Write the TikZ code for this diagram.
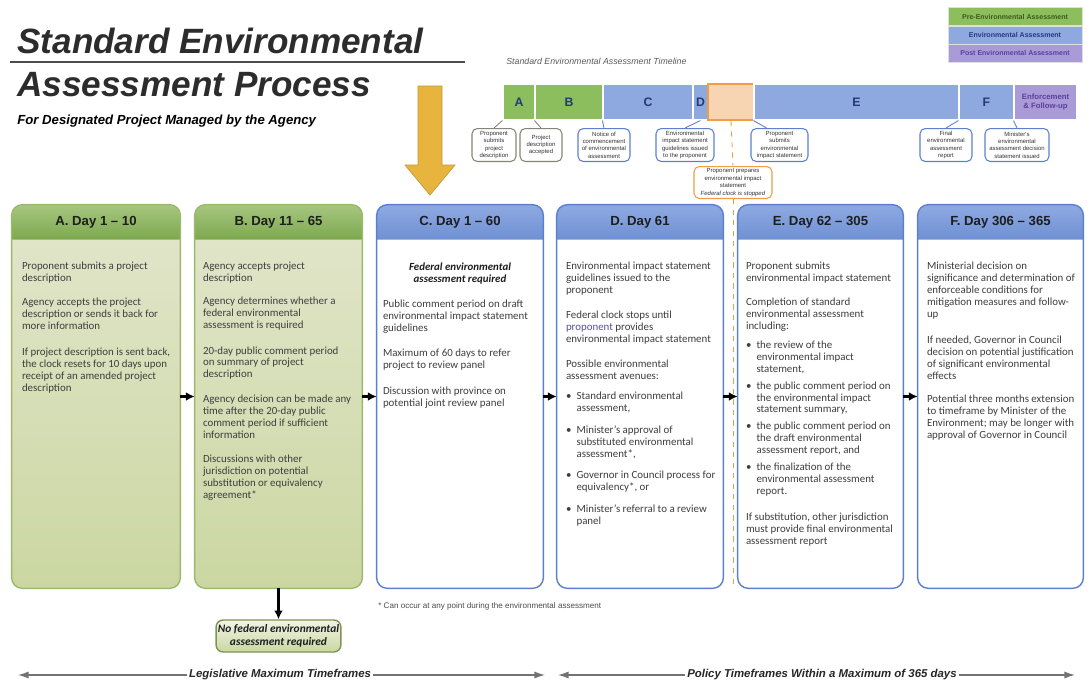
\documentclass[tikz,border=0pt]{standalone}
\usepackage{fontspec}
\setmainfont{Carlito}
\newfontfamily\arialfont{Liberation Sans}
\usepackage{tikz}
\usetikzlibrary{arrows.meta, positioning}

\definecolor{pregreen}{HTML}{8DBE5E}
\definecolor{eablue}{HTML}{8EA9E0}
\definecolor{postpurple}{HTML}{A99BD8}
\definecolor{stopfill}{HTML}{F7D5B3}
\definecolor{stopedge}{HTML}{EE9E45}
\definecolor{greenedge}{HTML}{9DB86A}
\definecolor{blueedge}{HTML}{5C80CF}
\definecolor{greenheadtop}{HTML}{A6C77F}
\definecolor{greenheadbot}{HTML}{7DA84E}
\definecolor{blueheadtop}{HTML}{8EAAE3}
\definecolor{blueheadbot}{HTML}{6F90D3}
\definecolor{bodytop}{HTML}{E2E6CC}
\definecolor{bodymid}{HTML}{F2F3E6}
\definecolor{bodybot}{HTML}{CBD7A2}
\definecolor{bodyink}{HTML}{3E3E3E}
\definecolor{headink}{HTML}{1E1E1E}
\definecolor{navy}{HTML}{24387A}
\definecolor{postink}{HTML}{5B3E9A}
\definecolor{preink}{HTML}{3D5A1C}
\definecolor{arrowgold}{HTML}{E7B53E}
\definecolor{greybox}{HTML}{85857A}
\definecolor{titleink}{HTML}{2C2C2C}
\definecolor{linkink}{HTML}{5B4EA0}

\newcommand\colfont{\fontsize{6.2}{6.8}\selectfont}
\newcommand\colbullet{\makebox[6pt][l]{\textbullet}}
\newcommand\colindent{\hspace*{6pt}}

\begin{document}
\begin{tikzpicture}[x=0.02cm, y=-0.02cm,
    colbox/.style={rounded corners=6pt, minimum height=7.66cm, inner sep=0pt},
    greenbody/.style={colbox, top color=bodytop, middle color=bodymid, bottom color=bodybot},
    bluebody/.style={colbox, fill=white},
    greenhead/.style={top color=greenheadtop, bottom color=greenheadbot},
    bluehead/.style={top color=blueheadtop, bottom color=blueheadbot},
    headtext/.style={font=\arialfont\bfseries\fontsize{7.5}{9}\selectfont, text=headink},
    coltext/.style={anchor=north west, align=left, inner sep=0pt, font=\colfont, text=bodyink},
    colarrow/.style={-{Latex[length=5pt,width=5pt]}, line width=1.3pt, black},
    seg/.style={minimum height=0.72cm, inner sep=0pt, draw=white, line width=0.6pt,
        font=\arialfont\bfseries\fontsize{7}{8}\selectfont, text=navy},
    legend/.style={minimum width=2.68cm, minimum height=0.36cm, inner sep=0pt,
        draw=white!75!gray, line width=0.4pt, font=\arialfont\bfseries\fontsize{4}{5}\selectfont},
    mile/.style={draw, rounded corners=3pt, line width=0.6pt, fill=white, align=center,
        inner sep=1pt, anchor=north, minimum height=0.66cm,
        font=\arialfont\fontsize{3.4}{4.2}\selectfont, text=black!80},
    tick/.style={line width=0.5pt},
    tfarrow/.style={-{Latex[length=6pt,width=4pt]}, line width=0.7pt, black!55},
    tftext/.style={font=\arialfont\bfseries\itshape\fontsize{6.5}{8}\selectfont, text=black!85, inner sep=1pt}
]
    \useasboundingbox (0,0) rectangle (1090,684);

    % Title
    \node[anchor=base west, inner sep=0pt, text=titleink,
        font=\arialfont\bfseries\itshape\fontsize{20}{24}\selectfont] (title1) at (17,53) {Standard Environmental};
    \node[anchor=base west, inner sep=0pt, text=titleink,
        font=\arialfont\bfseries\itshape\fontsize{20}{24}\selectfont] (title2) at (17,96) {Assessment Process};
    \draw[black!70, line width=0.7pt] (10,62) -- (465,62);
    \node[anchor=base west, inner sep=0pt,
        font=\arialfont\bfseries\itshape\fontsize{7.5}{9}\selectfont] (subtitle) at (17,124) {For Designated Project Managed by the Agency};

    % Big arrow into C
    \fill[arrowgold, draw=arrowgold!85!black, line width=0.4pt]
        (418,86) -- (442,86) -- (442,165) -- (455,165) -- (430,195) -- (405,165) -- (418,165) -- cycle;

    % Legend
    \node[legend, fill=pregreen, text=preink] (legPre) at (1015,16.5) {Pre-Environmental Assessment};
    \node[legend, fill=eablue, text=navy] (legEA) at (1015,35) {Environmental Assessment};
    \node[legend, fill=postpurple, text=postink] (legPost) at (1015,53) {Post Environmental Assessment};

    % Timeline bar
    \node[anchor=base west, inner sep=0pt, text=black!65,
        font=\arialfont\itshape\fontsize{5}{6}\selectfont] (tltitle) at (506,64) {Standard Environmental Assessment Timeline};
    \node[seg, fill=pregreen, minimum width=0.64cm] (segA) at (519,102) {A};
    \node[seg, fill=pregreen, minimum width=1.36cm] (segB) at (569,102) {B};
    \node[seg, fill=eablue, minimum width=1.8cm] (segC) at (648,102) {C};
    \node[seg, fill=eablue, minimum width=0.3cm] (segD) at (700.5,102) {D};
    \node[seg, fill=stopfill, draw=stopedge, line width=1pt, minimum width=0.92cm] (segO) at (731,102) {};
    \node[seg, fill=eablue, minimum width=4.1cm] (segE) at (856.5,102) {E};
    \node[seg, fill=eablue, minimum width=1.1cm] (segF) at (986.5,102) {F};
    \node[seg, fill=postpurple, minimum width=1.26cm, align=center, text=postink,
        font=\arialfont\bfseries\fontsize{4.4}{5.6}\selectfont] (segP) at (1045.5,102) {Enforcement\\\& Follow-up};

    % Milestones
    \node[mile, draw=greybox, minimum width=0.88cm] (m1) at (494,128) {Proponent\\submits\\project\\description};
    \node[mile, draw=greybox, minimum width=0.84cm] (m2) at (541,128) {Project\\description\\accepted};
    \node[mile, draw=blueedge, minimum width=1.04cm] (m3) at (604,128) {Notice of\\commencement\\of environmental\\assessment};
    \node[mile, draw=blueedge, minimum width=1.16cm] (m4) at (685,128) {Environmental\\impact statement\\guidelines issued\\to the proponent};
    \node[mile, draw=blueedge, minimum width=1.14cm] (m5) at (779.5,128) {Proponent\\submits\\environmental\\impact statement};
    \node[mile, draw=blueedge, minimum width=1.04cm] (m6) at (946,128) {Final\\environmental\\assessment\\report};
    \node[mile, draw=blueedge, minimum width=1.28cm] (m7) at (1017,128) {Minister's\\environmental\\assessment decision\\statement issued};
    \node[mile, draw=stopedge, minimum width=1.56cm, minimum height=0.64cm] (m8) at (733,166) {Proponent prepares\\environmental impact\\statement\\\textit{Federal clock is stopped}};

    \draw[tick, greybox] (segA.south west) -- (m1.north);
    \draw[tick, greybox] (segB.south west) -- (m2.north);
    \draw[tick, blueedge] (segC.south west) -- (m3.north);
    \draw[tick, blueedge] (segD.south) -- (m4.north);
    \draw[tick, blueedge] (segE.south west) -- ([xshift=-0.26cm]m5.north);
    \draw[tick, blueedge] (segF.south west) -- (m6.north);
    \draw[tick, blueedge] (segP.south west) -- (m7.north);
    \coordinate (stopEnd) at (733,588);
    \draw[tick, stopedge, dashed] (segO.south) -- (m8.north);
    \draw[tick, stopedge, dashed] (m8.south) -- (stopEnd);

    % Columns
    \node[greenbody, minimum width=3.36cm] (A) at (96,396.5) {};
    \node[greenbody, minimum width=3.34cm] (B) at (278.5,396.5) {};
    \node[bluebody, minimum width=3.32cm] (C) at (460,396.5) {};
    \node[bluebody, minimum width=3.32cm] (D) at (640,396.5) {};
    \node[bluebody, minimum width=3.30cm] (E) at (820.5,396.5) {};
    \node[bluebody, minimum width=3.30cm] (F) at (1000.5,396.5) {};

    % Column headers
    \shade[greenhead] ([yshift=-0.7cm]A.north west) [rounded corners=6pt] -- (A.north west) -- (A.north east) [sharp corners] -- ([yshift=-0.7cm]A.north east) -- cycle;
    \shade[greenhead] ([yshift=-0.7cm]B.north west) [rounded corners=6pt] -- (B.north west) -- (B.north east) [sharp corners] -- ([yshift=-0.7cm]B.north east) -- cycle;
    \shade[bluehead] ([yshift=-0.7cm]C.north west) [rounded corners=6pt] -- (C.north west) -- (C.north east) [sharp corners] -- ([yshift=-0.7cm]C.north east) -- cycle;
    \shade[bluehead] ([yshift=-0.7cm]D.north west) [rounded corners=6pt] -- (D.north west) -- (D.north east) [sharp corners] -- ([yshift=-0.7cm]D.north east) -- cycle;
    \shade[bluehead] ([yshift=-0.7cm]E.north west) [rounded corners=6pt] -- (E.north west) -- (E.north east) [sharp corners] -- ([yshift=-0.7cm]E.north east) -- cycle;
    \shade[bluehead] ([yshift=-0.7cm]F.north west) [rounded corners=6pt] -- (F.north west) -- (F.north east) [sharp corners] -- ([yshift=-0.7cm]F.north east) -- cycle;
    \draw[greenedge, line width=0.8pt, rounded corners=6pt] (A.south west) rectangle (A.north east);
    \draw[greenedge, line width=0.8pt, rounded corners=6pt] (B.south west) rectangle (B.north east);
    \draw[blueedge, line width=0.8pt, rounded corners=6pt] (C.south west) rectangle (C.north east);
    \draw[blueedge, line width=0.8pt, rounded corners=6pt] (D.south west) rectangle (D.north east);
    \draw[blueedge, line width=0.8pt, rounded corners=6pt] (E.south west) rectangle (E.north east);
    \draw[blueedge, line width=0.8pt, rounded corners=6pt] (F.south west) rectangle (F.north east);

    \node[headtext] (Ahead) at ([yshift=-0.35cm]A.north) {A. Day 1 \textendash{} 10};
    \node[headtext] (Bhead) at ([yshift=-0.35cm]B.north) {B. Day 11 \textendash{} 65};
    \node[headtext] (Chead) at ([yshift=-0.35cm]C.north) {C. Day 1 \textendash{} 60};
    \node[headtext] (Dhead) at ([yshift=-0.35cm]D.north) {D. Day 61};
    \node[headtext] (Ehead) at ([yshift=-0.35cm]E.north) {E. Day 62 \textendash{} 305};
    \node[headtext] (Fhead) at ([yshift=-0.35cm]F.north) {F. Day 306 \textendash{} 365};

    % Column texts
    \node[coltext] (Atext) at ([xshift=0.2cm,yshift=-1.14cm]A.north west) {%
        Proponent submits a project\\description\\[6.8pt]
        Agency accepts the project\\description or sends it back for\\more information\\[7.9pt]
        If project description is sent back,\\the clock resets for 10 days upon\\receipt of an amended project\\description};
    \node[coltext] (Btext) at ([xshift=0.16cm,yshift=-1.14cm]B.north west) {%
        Agency accepts project\\description\\[6.2pt]
        Agency determines whether a\\federal environmental\\assessment is required\\[7.9pt]
        20-day public comment period\\on summary of project\\description\\[7.4pt]
        Agency decision can be made any\\time after the 20-day public\\comment period if sufficient\\information\\[6.8pt]
        Discussions with other\\jurisdiction on potential\\substitution or equivalency\\agreement*};
    \node[font=\colfont\bfseries\itshape, text=headink, align=center, inner sep=0pt]
        (Cflag) at ([yshift=-1.38cm]C.north) {Federal environmental\\assessment required};
    \node[coltext] (Ctext) at ([xshift=0.12cm,yshift=-1.9cm]C.north west) {%
        Public comment period on draft\\environmental impact statement\\guidelines\\[7.4pt]
        Maximum of 60 days to refer\\project to review panel\\[8pt]
        Discussion with province on\\potential joint review panel};
    \node[coltext] (Dtext) at ([xshift=0.18cm,yshift=-1.14cm]D.north west) {%
        Environmental impact statement\\guidelines issued to the\\proponent\\[7.4pt]
        Federal clock stops until\\\textcolor{linkink}{proponent} provides\\environmental impact statement\\[7.4pt]
        Possible environmental\\assessment avenues:\\[5pt]
        \colbullet Standard environmental\\\colindent assessment,\\[5.4pt]
        \colbullet Minister's approval of\\\colindent substituted environmental\\\colindent assessment*,\\[5.4pt]
        \colbullet Governor in Council process for\\\colindent equivalency*, or\\[5.4pt]
        \colbullet Minister's referral to a review\\\colindent panel};
    \node[coltext] (Etext) at ([xshift=0.16cm,yshift=-1.14cm]E.north west) {%
        Proponent submits\\environmental impact statement\\[6.8pt]
        Completion of standard\\environmental assessment\\including:\\[4pt]
        \colbullet the review of the\\\colindent environmental impact\\\colindent statement,\\[2.8pt]
        \colbullet the public comment period on\\\colindent the environmental impact\\\colindent statement summary,\\[2.8pt]
        \colbullet the public comment period on\\\colindent the draft environmental\\\colindent assessment report, and\\[2.8pt]
        \colbullet the finalization of the\\\colindent environmental assessment\\\colindent report.\\[8pt]
        If substitution, other jurisdiction\\must provide final environmental\\assessment report};
    \node[coltext] (Ftext) at ([xshift=0.18cm,yshift=-1.14cm]F.north west) {%
        Ministerial decision on\\significance and determination of\\enforceable conditions for\\mitigation measures and follow-\\up\\[7.9pt]
        If needed, Governor in Council\\decision on potential justification\\of significant environmental\\effects\\[6.8pt]
        Potential three months extension\\to timeframe by Minister of the\\Environment; may be longer with\\approval of Governor in Council};

    % Flow between columns
    \draw[colarrow] (A.east) -- (B.west);
    \draw[colarrow] (B.east) -- (C.west);
    \draw[colarrow] (C.east) -- (D.west);
    \draw[colarrow] (D.east) -- (E.west);
    \draw[colarrow] (E.east) -- (F.west);

    % No federal EA
    \node[draw=greenedge!80!black, line width=0.8pt, rounded corners=4pt, top color=bodymid, bottom color=bodybot,
        minimum width=2.46cm, minimum height=0.64cm, inner sep=1pt, align=center,
        font=\fontsize{6.5}{7.4}\selectfont\bfseries\itshape, text=headink] (nofed) at (278.5,636)
        {No federal environmental\\assessment required};
    \draw[colarrow] (B.south) -- (nofed.north);

    \node[anchor=base west, inner sep=0pt, text=black!70,
        font=\arialfont\fontsize{4.6}{5.5}\selectfont] (footnote) at (378,608) {* Can occur at any point during the environmental assessment};

    % Timeframes
    \coordinate (legL) at (18,675);
    \coordinate (legR) at (545,675);
    \coordinate (polL) at (558,675);
    \coordinate (polR) at (1075,675);
    \node[tftext] (legis) at (280,675) {Legislative Maximum Timeframes};
    \node[tftext] (policy) at (822,675) {Policy Timeframes Within a Maximum of 365 days};
    \draw[tfarrow] (legis.west) -- (legL);
    \draw[tfarrow] (legis.east) -- (legR);
    \draw[tfarrow] (policy.west) -- (polL);
    \draw[tfarrow] (policy.east) -- (polR);
\end{tikzpicture}
\end{document}
